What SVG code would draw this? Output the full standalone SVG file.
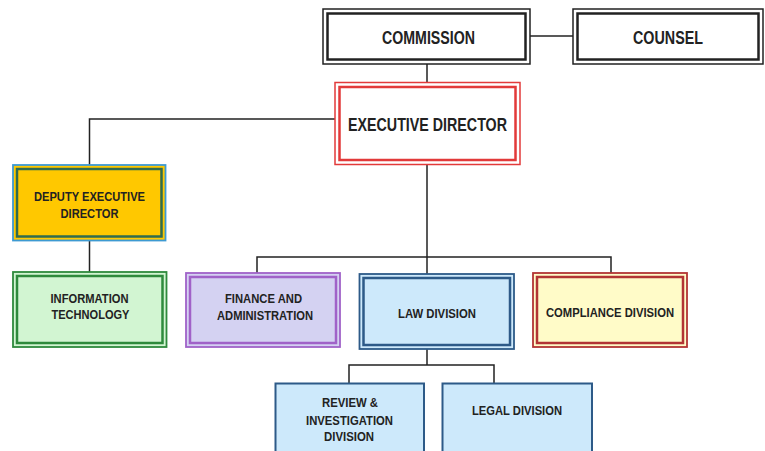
<svg xmlns="http://www.w3.org/2000/svg" width="765" height="451" viewBox="0 0 765 451">
<style>
text{font-family:"Liberation Sans",Arial,sans-serif;font-weight:bold;fill:#222;text-anchor:middle}
.big{font-size:18px}
.sm{font-size:13.5px}
.ln{fill:none;stroke:#222;stroke-width:1.5}
.o{stroke-width:1.5}
.i{stroke-width:2.5}
</style>
<rect width="765" height="451" fill="#fff"/>
<g id="connectors">
<path class="ln" d="M530 36H573"/>
<path class="ln" d="M427 64V83"/>
<path class="ln" d="M335 119H89.5V165"/>
<path class="ln" d="M89.5 240V272"/>
<path class="ln" d="M427 164V274"/>
<path class="ln" d="M257 273V257H611V273"/>
<path class="ln" d="M427 349V365"/>
<path class="ln" d="M349 383V365H494V383"/>
</g>
<g id="commission">
<rect class="o" x="323" y="9" width="207" height="55" fill="#fff" stroke="#222"/>
<rect class="i" x="327.5" y="13.5" width="198" height="46" fill="#fff" stroke="#222"/>
<text class="big" x="428.5" y="43.5" textLength="93" lengthAdjust="spacingAndGlyphs">COMMISSION</text>
</g>
<g id="counsel">
<rect class="o" x="573" y="9" width="190" height="55" fill="#fff" stroke="#222"/>
<rect class="i" x="577.5" y="13.5" width="181" height="46" fill="#fff" stroke="#222"/>
<text class="big" x="668" y="43.5" textLength="70" lengthAdjust="spacingAndGlyphs">COUNSEL</text>
</g>
<g id="executive-director">
<rect class="o" x="335" y="82.5" width="185" height="82" fill="#fff" stroke="#e23a3a"/>
<rect class="i" x="339.5" y="87" width="176" height="73" fill="#fff" stroke="#e23a3a"/>
<text class="big" x="427.5" y="130.5" textLength="159" lengthAdjust="spacingAndGlyphs">EXECUTIVE DIRECTOR</text>
</g>
<g id="deputy">
<rect x="13" y="165" width="152.5" height="75.5" fill="#ffc800" stroke="#3d9ad2" stroke-width="1.8"/>
<rect x="17" y="169" width="144.5" height="67.5" fill="#ffc800" stroke="#2f6b4e" stroke-width="2.5"/>
<text class="sm" x="89.5" y="200.5" textLength="111" lengthAdjust="spacingAndGlyphs">DEPUTY EXECUTIVE</text>
<text class="sm" x="89.5" y="217.5" textLength="58" lengthAdjust="spacingAndGlyphs">DIRECTOR</text>
</g>
<g id="it">
<rect x="13" y="272" width="153.5" height="75" fill="#d2f5d2" stroke="#2e8a3c" stroke-width="1.8"/>
<rect x="17" y="276" width="145.5" height="67" fill="#d2f5d2" stroke="#2e8a3c" stroke-width="2.5"/>
<text class="sm" x="89.5" y="302.5" textLength="78" lengthAdjust="spacingAndGlyphs">INFORMATION</text>
<text class="sm" x="90.5" y="318.5" textLength="78" lengthAdjust="spacingAndGlyphs">TECHNOLOGY</text>
</g>
<g id="finance">
<rect x="186" y="273" width="154" height="74" fill="#d4d2f2" stroke="#a062c8" stroke-width="1.8"/>
<rect x="190" y="277" width="146" height="66" fill="#d4d2f2" stroke="#a062c8" stroke-width="2.5"/>
<text class="sm" x="263.5" y="302.5" textLength="77" lengthAdjust="spacingAndGlyphs">FINANCE AND</text>
<text class="sm" x="265" y="319.5" textLength="96" lengthAdjust="spacingAndGlyphs">ADMINISTRATION</text>
</g>
<g id="law">
<rect x="359.5" y="274" width="154.5" height="75" fill="#cde9fb" stroke="#2d5a88" stroke-width="1.8"/>
<rect x="363.5" y="278" width="146.5" height="67" fill="#cde9fb" stroke="#2d5a88" stroke-width="2.5"/>
<text class="sm" x="437" y="317.5" textLength="78" lengthAdjust="spacingAndGlyphs">LAW DIVISION</text>
</g>
<g id="compliance">
<rect x="533" y="273" width="154" height="74" fill="#fffbc8" stroke="#b23434" stroke-width="1.8"/>
<rect x="537" y="277" width="146" height="66" fill="#fffbc8" stroke="#b23434" stroke-width="2.5"/>
<text class="sm" x="610" y="316.5" textLength="128" lengthAdjust="spacingAndGlyphs">COMPLIANCE DIVISION</text>
</g>
<g id="review">
<rect x="275.5" y="383.5" width="148.5" height="75" fill="#cde9fb" stroke="#2d5a88" stroke-width="2"/>
<text class="sm" x="350" y="406.5" textLength="56" lengthAdjust="spacingAndGlyphs">REVIEW &amp;</text>
<text class="sm" x="349.5" y="424.5" textLength="87" lengthAdjust="spacingAndGlyphs">INVESTIGATION</text>
<text class="sm" x="349" y="440.5" textLength="50" lengthAdjust="spacingAndGlyphs">DIVISION</text>
</g>
<g id="legal">
<rect x="442.5" y="383.5" width="149.5" height="75" fill="#cde9fb" stroke="#2d5a88" stroke-width="2"/>
<text class="sm" x="517" y="414.5" textLength="90" lengthAdjust="spacingAndGlyphs">LEGAL DIVISION</text>
</g>
</svg>
